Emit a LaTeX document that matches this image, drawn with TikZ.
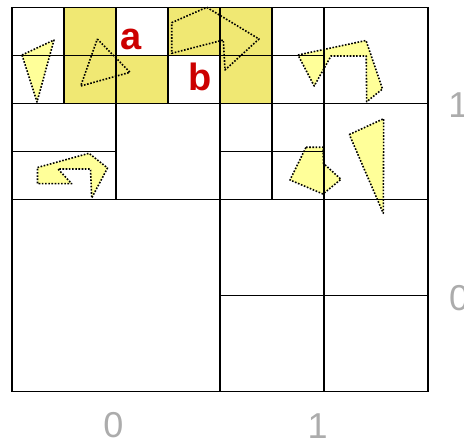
\documentclass[tikz,border=0pt]{standalone}
\usepackage{fontspec}
\setmainfont{Liberation Sans}
\definecolor{shade}{RGB}{240,232,115}
\definecolor{poly}{RGB}{255,255,153}
\definecolor{lblred}{RGB}{204,0,0}
\definecolor{axisgray}{RGB}{172,172,172}
\tikzset{
  grid line/.style={line width=1.9pt, line cap=rect},
  cellshade/.style={fill=shade},
  polyfill/.style={fill=poly},
  polyedge/.style={line width=1.6pt, dash pattern=on 1.6pt off 1.6pt, line join=round},
  cell label/.style={text=lblred, font=\fontsize{38}{38}\selectfont\bfseries, inner sep=0pt, anchor=base west},
  axis label/.style={text=axisgray, font=\fontsize{36}{36}\selectfont, inner sep=0pt, anchor=base},
}
\begin{document}
\begin{tikzpicture}[x=1pt,y=-1pt]
\useasboundingbox (0,0) rectangle (464,441);
\fill[white] (0,0) rectangle (464,441);
% polygon shapes
\def\pA{(22,55) -- (54,40) -- (37,102) -- cycle}
\def\pB{(97.3,39) -- (130,72.3) -- (80.7,86) -- cycle}
\def\pC{(171.7,22.7) -- (206.7,7.3) -- (259,39) -- (225,70) -- (223.3,40) -- (171.7,53.3) -- cycle}
\def\pD{(298,55) -- (366,40.5) -- (382.5,89) -- (366.7,101.7) -- (366.2,56) -- (331,56) -- (314.2,86) -- cycle}
\def\pE{(37.5,167.5) -- (89,153.3) -- (107.5,168) -- (91.7,198) -- (90.5,169) -- (58,169) -- (71.7,183.7) -- (37.5,183.7) -- cycle}
\def\pF{(306,147.3) -- (323,147.3) -- (323.5,163.5) -- (341,179.3) -- (323,194) -- (290,180) -- cycle}
\def\pG{(349.3,134.5) -- (383.7,118.7) -- (383.3,213.3) -- cycle}
\foreach \p in {\pA,\pB,\pC,\pD,\pE,\pF,\pG} \path[polyfill] \p;
% shaded cells
\path[cellshade] (64,7.5) rectangle (116,103.5);
\path[cellshade] (116,55.5) rectangle (168,103.5);
\path[cellshade] (168,7.5) rectangle (220,55.5);
\path[cellshade] (220,7.5) rectangle (272,103.5);
% polygon outlines
\foreach \p in {\pA,\pB,\pC,\pD,\pE,\pF,\pG} \draw[polyedge] \p;
% grid
\draw[grid line] (12,7.5) rectangle (428,391.5);
\draw[grid line] (220,7.5) -- (220,391.5);
\draw[grid line] (12,199.5) -- (428,199.5);
\draw[grid line] (12,103.5) -- (428,103.5);
\draw[grid line] (116,7.5) -- (116,199.5);
\draw[grid line] (64,7.5) -- (64,103.5);
\draw[grid line] (168,7.5) -- (168,103.5);
\draw[grid line] (12,55.5) -- (324,55.5);
\draw[grid line] (12,151.5) -- (116,151.5);
\draw[grid line] (324,7.5) -- (324,391.5);
\draw[grid line] (272,7.5) -- (272,199.5);
\draw[grid line] (220,151.5) -- (324,151.5);
\draw[grid line] (220,295.5) -- (428,295.5);
% labels
\node[cell label] (a) at (120,50) {a};
\node[cell label] (b) at (188.5,90.7) {b};
\node[axis label] (x0) at (113.5,437.5) {0};
\node[axis label] (x1) at (317.6,438) {1};
\node[axis label] (y1) at (458.3,117.5) {1};
\node[axis label] (y0) at (459.2,311) {0};
\end{tikzpicture}
\end{document}
